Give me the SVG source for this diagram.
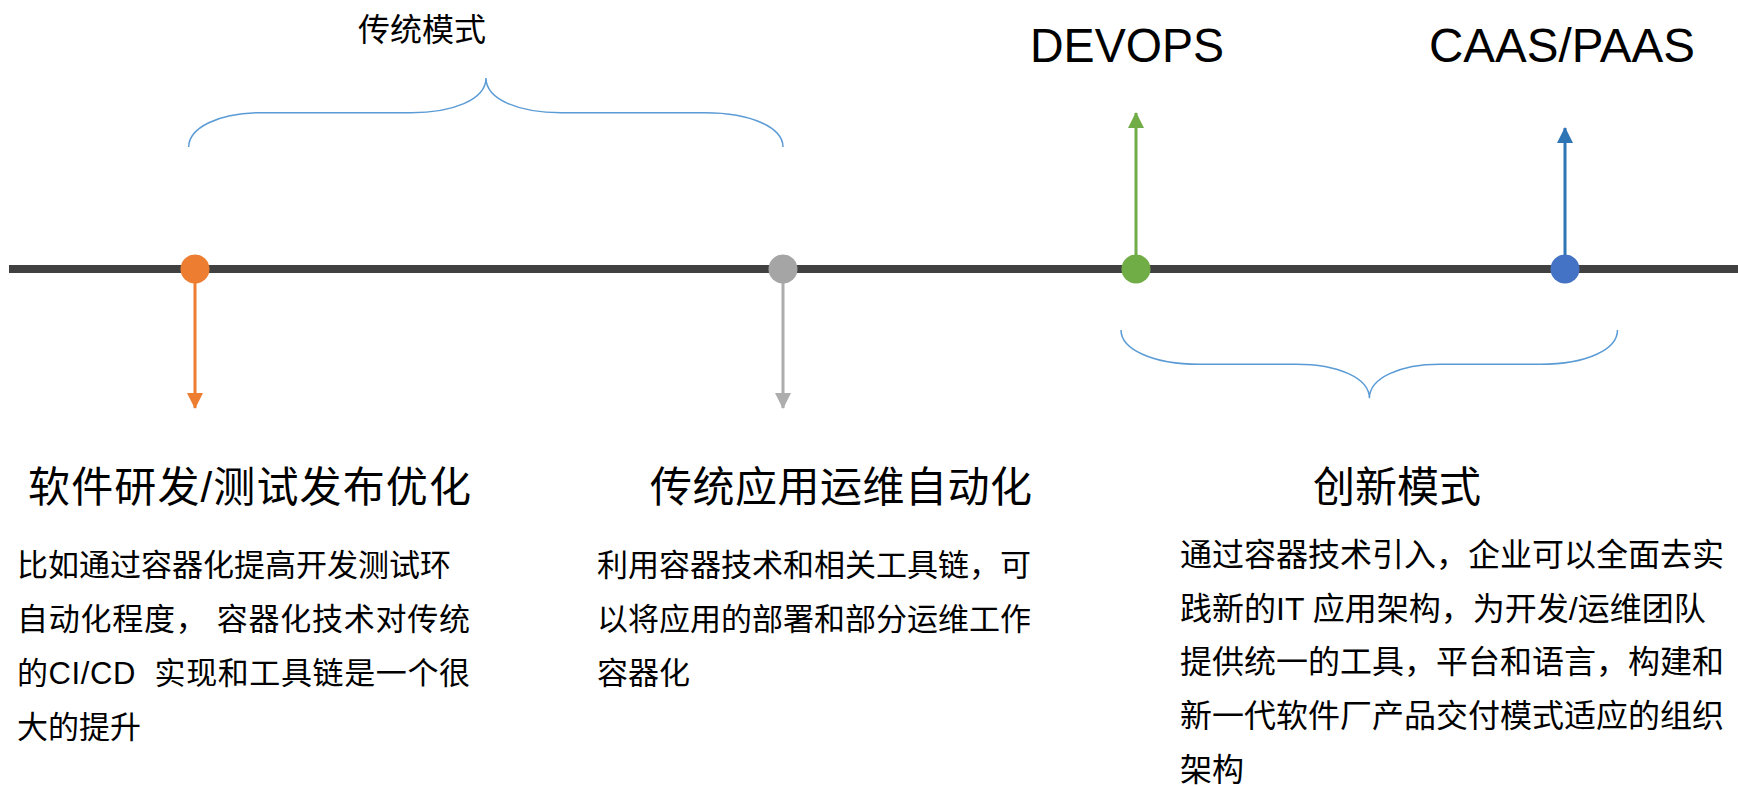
<svg xmlns="http://www.w3.org/2000/svg" width="1738" height="786" viewBox="0 0 1738 786">
  <style>
    .cjk { font-family: "Liberation Sans", "Noto Sans CJK SC", sans-serif; fill: #000; }
    .title { font-size: 32px; }
    .head { font-size: 42px; }
    .body { font-size: 31px; }
    .body-r { font-size: 32px; }
    .latin { font-family: "Liberation Sans", Arial, sans-serif; font-size: 48px; fill: #000; }
    .brace { fill: none; stroke: #5B9BD5; stroke-width: 1.5; }
    .stem { fill: none; stroke-width: 3; }
  </style>
  <defs>
    <marker id="head-orange" viewBox="0 0 16 16" refX="15" refY="8" markerWidth="16" markerHeight="16" markerUnits="userSpaceOnUse" orient="auto">
      <path d="M0,0 L16,8 L0,16 z" fill="#ED7D31"/>
    </marker>
    <marker id="head-gray" viewBox="0 0 16 16" refX="15" refY="8" markerWidth="16" markerHeight="16" markerUnits="userSpaceOnUse" orient="auto">
      <path d="M0,0 L16,8 L0,16 z" fill="#ADADAD"/>
    </marker>
    <marker id="head-green" viewBox="0 0 16 16" refX="15" refY="8" markerWidth="16" markerHeight="16" markerUnits="userSpaceOnUse" orient="auto">
      <path d="M0,0 L16,8 L0,16 z" fill="#70AD47"/>
    </marker>
    <marker id="head-blue" viewBox="0 0 16 16" refX="15" refY="8" markerWidth="16" markerHeight="16" markerUnits="userSpaceOnUse" orient="auto">
      <path d="M0,0 L16,8 L0,16 z" fill="#2E75B6"/>
    </marker>
  </defs>

  <rect width="1738" height="786" fill="#fff"/>

  <!-- main time axis -->
  <line id="axis" x1="9" y1="269" x2="1738" y2="269" stroke="#404040" stroke-width="8"/>

  <!-- braces grouping the phases -->
  <g id="brace-traditional">
    <path class="brace" d="M188.7,147 C188.7,128 218,112.7 262,112.7 L411,112.7 C452,112.7 486,100 486,78 C486,100 520,112.7 561,112.7 L705,112.7 C752,112.7 783,128 783,147"/>
    <text class="cjk title" x="358" y="41">传统模式</text>
  </g>
  <g id="brace-innovation">
    <path class="brace" d="M1121,330 C1121,349 1152,364.3 1199.5,364.3 L1296,364.3 C1338,364.3 1369.4,378 1369.4,398.3 C1369.4,378 1400,364.3 1440,364.3 L1540,364.3 C1588,364.3 1617.5,349 1617.5,330"/>
  </g>

  <!-- stems from milestones -->
  <g id="connectors">
    <line class="stem" x1="195" y1="280" x2="195" y2="408" stroke="#ED7D31" marker-end="url(#head-orange)"/>
    <line class="stem" x1="783" y1="280" x2="783" y2="408" stroke="#ADADAD" marker-end="url(#head-gray)"/>
    <line class="stem" x1="1136" y1="258" x2="1136" y2="113" stroke="#70AD47" marker-end="url(#head-green)"/>
    <line class="stem" x1="1565" y1="258" x2="1565" y2="128" stroke="#2E75B6" marker-end="url(#head-blue)"/>
  </g>

  <!-- milestone 1 -->
  <g id="node-dev-test">
    <circle cx="195" cy="269" r="14.5" fill="#ED7D31"/>
    <text class="cjk head" x="28" y="502" textLength="443">软件研发/测试发布优化</text>
    <text class="cjk body" x="17" y="576">比如通过容器化提高开发测试环</text>
    <text class="cjk body" x="17" y="630" textLength="453">自动化程度， 容器化技术对传统</text>
    <text class="cjk body" x="17" y="684" textLength="453" xml:space="preserve">的CI/CD  实现和工具链是一个很</text>
    <text class="cjk body" x="17" y="738">大的提升</text>
  </g>

  <!-- milestone 2 -->
  <g id="node-ops-automation">
    <circle cx="783" cy="269" r="14.5" fill="#A5A5A5"/>
    <text class="cjk head" x="650" y="502" textLength="382">传统应用运维自动化</text>
    <text class="cjk body" x="597" y="576">利用容器技术和相关工具链，可</text>
    <text class="cjk body" x="597" y="630">以将应用的部署和部分运维工作</text>
    <text class="cjk body" x="597" y="684">容器化</text>
  </g>

  <!-- milestone 3 -->
  <g id="node-devops">
    <circle cx="1136" cy="269" r="14.5" fill="#70AD47"/>
    <text class="latin" x="1030" y="62" textLength="194" lengthAdjust="spacingAndGlyphs">DEVOPS</text>
  </g>

  <!-- milestone 4 -->
  <g id="node-caas">
    <circle cx="1565" cy="269" r="14.5" fill="#4472C4"/>
    <text class="latin" x="1429" y="62" textLength="266" lengthAdjust="spacingAndGlyphs">CAAS/PAAS</text>
  </g>

  <!-- innovation mode description -->
  <g id="node-innovation">
    <text class="cjk head" x="1313" y="502">创新模式</text>
    <text class="cjk body-r" x="1180" y="566">通过容器技术引入，企业可以全面去实</text>
    <text class="cjk body-r" x="1180" y="620">践新的IT 应用架构，为开发/运维团队</text>
    <text class="cjk body-r" x="1180" y="673">提供统一的工具，平台和语言，构建和</text>
    <text class="cjk body-r" x="1180" y="727">新一代软件厂产品交付模式适应的组织</text>
    <text class="cjk body-r" x="1180" y="781">架构</text>
  </g>
</svg>
